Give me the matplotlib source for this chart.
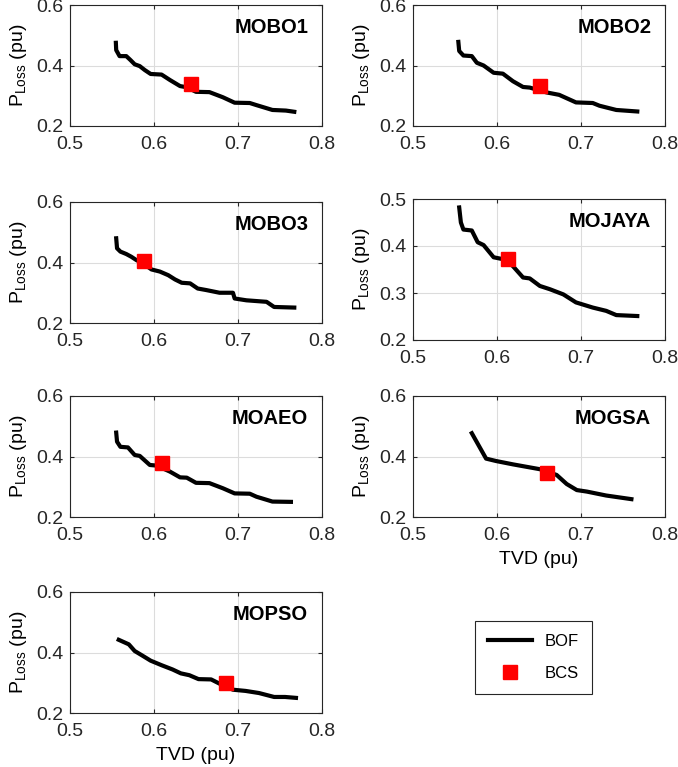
import matplotlib
matplotlib.use("Agg")
import matplotlib.pyplot as plt
from matplotlib.lines import Line2D

plt.rcParams['font.family'] = ['Liberation Sans', 'DejaVu Sans']
plt.rcParams['mathtext.default'] = 'regular'

# Pareto fronts (TVD, P_Loss)
mobo1_tvd = [0.5546, 0.555, 0.559, 0.567, 0.572, 0.577, 0.583, 0.589, 0.596, 0.609, 0.619,
             0.631, 0.639, 0.650, 0.666, 0.682, 0.696, 0.714, 0.722, 0.741, 0.757, 0.767]
mobo1_loss = [0.475, 0.451, 0.431, 0.431, 0.418, 0.404, 0.398, 0.385, 0.372, 0.370, 0.352,
              0.332, 0.328, 0.313, 0.312, 0.295, 0.277, 0.276, 0.269, 0.253, 0.251, 0.247]
mobo1_bcs = (0.644, 0.339)

mobo2_tvd = [0.554, 0.555, 0.560, 0.570, 0.576, 0.584, 0.596, 0.607, 0.619, 0.631, 0.639,
             0.659, 0.674, 0.694, 0.714, 0.722, 0.742, 0.767]
mobo2_loss = [0.478, 0.448, 0.433, 0.431, 0.409, 0.400, 0.376, 0.373, 0.348, 0.329, 0.327,
              0.311, 0.303, 0.278, 0.276, 0.267, 0.253, 0.248]
mobo2_bcs = (0.651, 0.331)

mobo3_tvd = [0.555, 0.556, 0.560, 0.567, 0.573, 0.579, 0.587, 0.597, 0.607, 0.617, 0.625,
             0.633, 0.643, 0.652, 0.662, 0.678, 0.694, 0.696, 0.710, 0.734, 0.743, 0.767]
mobo3_loss = [0.480, 0.447, 0.436, 0.428, 0.419, 0.408, 0.397, 0.377, 0.370, 0.358, 0.344,
              0.333, 0.331, 0.314, 0.309, 0.300, 0.300, 0.281, 0.275, 0.270, 0.253, 0.251]
mobo3_bcs = (0.588, 0.405)

mojaya_tvd = [0.555, 0.557, 0.560, 0.570, 0.577, 0.584, 0.596, 0.607, 0.615, 0.631, 0.639,
              0.651, 0.663, 0.679, 0.694, 0.714, 0.730, 0.742, 0.767]
mojaya_loss = [0.482, 0.450, 0.435, 0.433, 0.408, 0.402, 0.376, 0.372, 0.365, 0.333, 0.331,
               0.315, 0.308, 0.297, 0.280, 0.269, 0.262, 0.253, 0.251]
mojaya_bcs = (0.613, 0.373)

moaeo_tvd = [0.555, 0.556, 0.560, 0.569, 0.577, 0.583, 0.595, 0.603, 0.619, 0.631, 0.639,
             0.650, 0.666, 0.682, 0.696, 0.714, 0.722, 0.741, 0.763]
moaeo_loss = [0.479, 0.449, 0.432, 0.430, 0.405, 0.402, 0.372, 0.370, 0.350, 0.331, 0.330,
              0.313, 0.312, 0.295, 0.278, 0.277, 0.267, 0.251, 0.250]
moaeo_bcs = (0.610, 0.380)

mogsa_tvd = [0.570, 0.587, 0.599, 0.619, 0.651, 0.671, 0.683, 0.695, 0.707, 0.730, 0.760]
mogsa_loss = [0.477, 0.393, 0.385, 0.374, 0.358, 0.339, 0.309, 0.289, 0.284, 0.271, 0.259]
mogsa_bcs = (0.659, 0.344)

mopso_tvd = [0.558, 0.570, 0.577, 0.586, 0.596, 0.609, 0.622, 0.632, 0.642, 0.653, 0.668,
             0.678, 0.694, 0.709, 0.725, 0.743, 0.756, 0.769]
mopso_loss = [0.442, 0.427, 0.405, 0.390, 0.373, 0.358, 0.344, 0.331, 0.325, 0.312, 0.311,
              0.297, 0.277, 0.273, 0.266, 0.253, 0.253, 0.250]
mopso_bcs = (0.686, 0.299)

names = ['MOBO1', 'MOBO2', 'MOBO3', 'MOJAYA', 'MOAEO', 'MOGSA', 'MOPSO']
fronts = [(mobo1_tvd, mobo1_loss), (mobo2_tvd, mobo2_loss), (mobo3_tvd, mobo3_loss),
          (mojaya_tvd, mojaya_loss), (moaeo_tvd, moaeo_loss), (mogsa_tvd, mogsa_loss),
          (mopso_tvd, mopso_loss)]
best = [mobo1_bcs, mobo2_bcs, mobo3_bcs, mojaya_bcs, moaeo_bcs, mogsa_bcs, mopso_bcs]

# axes rectangles in figure fraction [left, bottom, width, height]
W, H = 678, 767
def rect(x0, x1, y0, y1):
    return [x0 / W, 1 - y1 / H, (x1 - x0) / W, (y1 - y0) / H]

rects = [rect(70, 322, 5, 126), rect(413, 665, 5, 126),
         rect(70, 322, 202, 323), rect(413, 665, 199, 340),
         rect(70, 322, 396, 517), rect(413, 665, 396, 517),
         rect(70, 322, 592, 713)]
show_xlabel = [False, False, False, False, False, True, True]

fig = plt.figure(figsize=(W / 100, H / 100), dpi=100)

for i, name in enumerate(names):
    ax = fig.add_axes(rects[i])
    tvd, loss = fronts[i]
    ax.plot(tvd, loss, color='black', lw=3.0, solid_joinstyle='round')
    ax.plot(best[i][0], best[i][1], 's', color='#ff0000', ms=10, mec='#ff0000')
    ax.set_xlim(0.5, 0.8)
    ax.set_xticks([0.5, 0.6, 0.7, 0.8])
    ax.set_xticklabels(['0.5', '0.6', '0.7', '0.8'])
    if name == 'MOJAYA':
        ax.set_ylim(0.2, 0.5)
        ax.set_yticks([0.2, 0.3, 0.4, 0.5])
        ax.set_yticklabels(['0.2', '0.3', '0.4', '0.5'])
    else:
        ax.set_ylim(0.2, 0.6)
        ax.set_yticks([0.2, 0.4, 0.6])
        ax.set_yticklabels(['0.2', '0.4', '0.6'])
    ax.grid(True, color='#dcdcdc', lw=0.8)
    ax.set_axisbelow(True)
    for s in ax.spines.values():
        s.set_color('#262626')
        s.set_linewidth(0.8)
    ax.tick_params(direction='in', length=3, width=0.8, top=True, right=True,
                   labelsize=14, colors='#262626')
    ax.tick_params(axis='x', pad=7)
    ax.tick_params(axis='y', pad=5)
    ax.set_ylabel('P$_{Loss}$ (pu)', fontsize=14, labelpad=5)
    if show_xlabel[i]:
        ax.set_xlabel('TVD (pu)', fontsize=14, labelpad=5)
    ty = 0.84 if name == 'MOJAYA' else 0.81
    ax.text(0.945, ty, name, transform=ax.transAxes, ha='right', va='center',
            fontsize=14.5, fontweight='bold')

handles = [Line2D([], [], color='black', lw=3.0),
           Line2D([], [], ls='none', marker='s', color='#ff0000', ms=10)]
leg = fig.legend(handles, ['BOF', 'BCS'], loc='center', bbox_to_anchor=(0.787, 0.143),
                 fontsize=12, fancybox=False, edgecolor='#262626', framealpha=1,
                 handlelength=2.6, borderpad=0.8, labelspacing=1.0, borderaxespad=0)
leg.get_frame().set_linewidth(0.8)

fig.savefig('out.png', dpi=100)
